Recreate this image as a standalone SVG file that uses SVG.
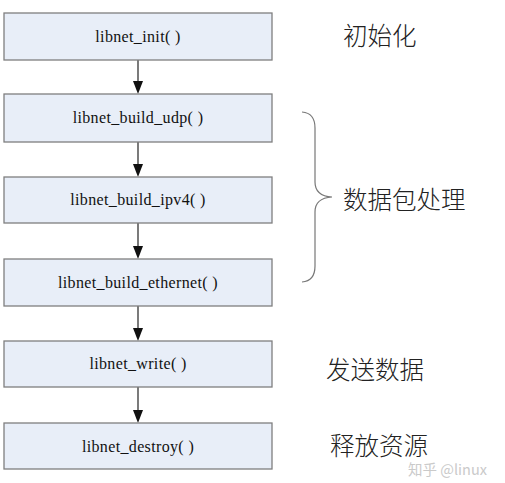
<svg xmlns="http://www.w3.org/2000/svg" width="505" height="483" viewBox="0 0 505 483">
<style>
.box{fill:#E8EEF8;stroke:#7F7F7F;stroke-width:1.3}
.lbl{font-family:"Liberation Serif","Times New Roman",serif;font-size:16px;letter-spacing:0.35px;fill:#111;text-anchor:middle}
.cn{font-family:"Noto Sans CJK SC",sans-serif;font-size:24.5px;fill:#222;font-weight:300}
.conn{stroke:#333;stroke-width:1.3;fill:none}
.head{fill:#111}
</style>
<rect width="505" height="483" fill="#fff"/>
<g id="connectors">
<line class="conn" x1="138" y1="60" x2="138" y2="84"/>
<line class="conn" x1="138" y1="142" x2="138" y2="167"/>
<line class="conn" x1="138" y1="223" x2="138" y2="249"/>
<line class="conn" x1="138" y1="306" x2="138" y2="331"/>
<line class="conn" x1="138" y1="387" x2="138" y2="413"/>
<path class="head" d="M133,81 L143,81 L138,94 Z"/>
<path class="head" d="M133,164 L143,164 L138,177 Z"/>
<path class="head" d="M133,246 L143,246 L138,259 Z"/>
<path class="head" d="M133,328 L143,328 L138,341 Z"/>
<path class="head" d="M133,410 L143,410 L138,423 Z"/>
</g>
<g id="n1"><rect class="box" x="4" y="13" width="268" height="47"/><text class="lbl" x="138" y="42">libnet_init( )</text></g>
<g id="n2"><rect class="box" x="4" y="94" width="268" height="48"/><text class="lbl" x="138" y="123">libnet_build_udp( )</text></g>
<g id="n3"><rect class="box" x="4" y="177" width="268" height="46"/><text class="lbl" x="138" y="205">libnet_build_ipv4( )</text></g>
<g id="n4"><rect class="box" x="4" y="259" width="268" height="47"/><text class="lbl" x="138" y="288">libnet_build_ethernet( )</text></g>
<g id="n5"><rect class="box" x="4" y="341" width="268" height="46"/><text class="lbl" x="138" y="369">libnet_write( )</text></g>
<g id="n6"><rect class="box" x="4" y="423" width="268" height="46"/><text class="lbl" x="138" y="452">libnet_destroy( )</text></g>
<g id="brace">
<path d="M302,112 Q315,113 315,128 L315,182 Q315,196 332,197 Q315,198 315,212 L315,266 Q315,281 302,282" fill="none" stroke="#777" stroke-width="1.2"/>
</g>
<g id="labels">
<text class="cn" x="343" y="45">初始化</text>
<text class="cn" x="343" y="209">数据包处理</text>
<text class="cn" x="326" y="379">发送数据</text>
<text class="cn" x="330" y="455">释放资源</text>
<text x="408" y="475" font-family="Noto Sans CJK SC,sans-serif" font-size="14.5" fill="#CACACA">知乎 @linux</text>
</g>
</svg>
